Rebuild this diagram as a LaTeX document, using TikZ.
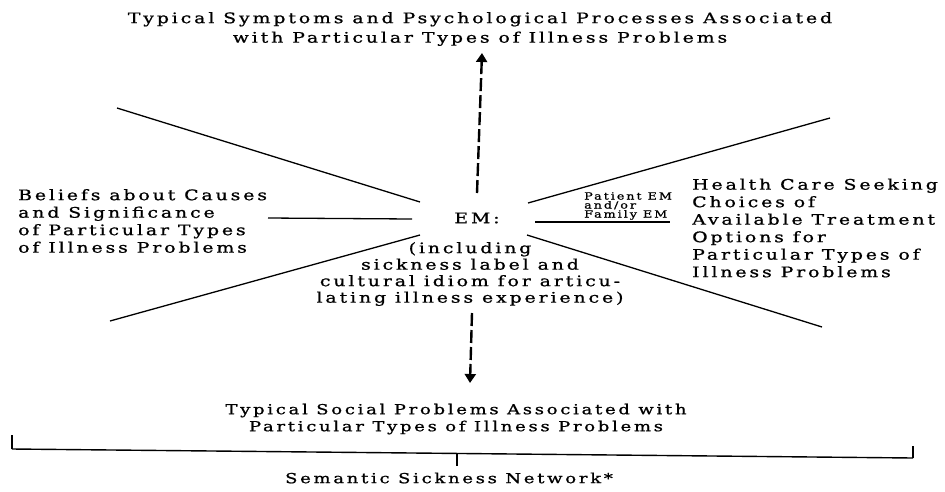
\documentclass[tikz,border=0pt]{standalone}
\usepackage{fontspec}
\setmainfont{DejaVu Serif}[FakeStretch=1.3, LetterSpace=20, FakeBold=1]
\usetikzlibrary{arrows.meta}
\begin{document}
\begin{tikzpicture}[x=1pt,y=-1pt,
  lbl/.style={inner sep=0pt, font=\fontsize{14.5}{17.5}\selectfont},
  toplbl/.style={inner sep=0pt, align=center, font=\fontsize{14.5}{19.5}\selectfont},
  small/.style={inner sep=0pt, align=left, font=\fontsize{9.8}{9}\selectfont},
  spoke/.style={line width=1.3pt},
  dasharrow/.style={line width=2.4pt, dash pattern=on 13pt off 4pt, -{Triangle[length=9pt,width=11pt]}},
  brack/.style={line width=1.4pt}]
\useasboundingbox[fill=white] (0,0) rectangle (945,491);

% texts
\node[toplbl] (top) at (480,29) {Typical Symptoms and Psychological Processes Associated\\with Particular Types of Illness Problems};
\node[lbl, align=left, anchor=west] (left) at (18,221) {Beliefs about Causes\\and Significance\\of Particular Types\\of Illness Problems};
\node[lbl, align=left, anchor=west] (right) at (692,228) {Health Care Seeking\\Choices of\\Available Treatment\\Options for\\Particular Types of\\Illness Problems};
\node[lbl] (em) at (477,218) {EM:};
\node[lbl, align=center, font=\fontsize{14.5}{16.5}\selectfont] (emsub) at (470,274) {(including\\sickness label and\\cultural idiom for articu-\\lating illness experience)};
\node[small, anchor=west] (pem) at (584,206) {Patient EM\\and/or\\Family EM};
\node[lbl, align=center, font=\fontsize{13.8}{17}\selectfont] (social) at (456,419) {Typical Social Problems Associated with\\Particular Types of Illness Problems};
\node[lbl, font=\fontsize{13.8}{17}\selectfont] (sem) at (449,478) {Semantic Sickness Network*};

% spokes
\coordinate (l1a) at (117,108); \coordinate (l1b) at (420,202);
\coordinate (l2a) at (268,218); \coordinate (l2b) at (412,219);
\coordinate (l3a) at (110,321); \coordinate (l3b) at (420,235);
\coordinate (r1a) at (528,203); \coordinate (r1b) at (830,118);
\coordinate (r2a) at (535,222); \coordinate (r2b) at (670,222);
\coordinate (r3a) at (527,235); \coordinate (r3b) at (822,327);
\draw[spoke] (l1a) -- (l1b);
\draw[spoke] (l2a) -- (l2b);
\draw[spoke] (l3a) -- (l3b);
\draw[spoke] (r1a) -- (r1b);
\draw[spoke] (r2a) -- (r2b);
\draw[spoke] (r3a) -- (r3b);

% dashed arrows
\coordinate (upS) at (477,193); \coordinate (upE) at (482,53);
\coordinate (dnS) at (472,313); \coordinate (dnE) at (470,383);
\draw[dasharrow] (upS) -- (upE);
\draw[dasharrow] (dnS) -- (dnE);

% bracket
\coordinate (bL) at (12,449); \coordinate (bR) at (913,458);
\coordinate (bM) at (457,453.5);
\draw[brack] (bL) -- (bR);
\draw[line width=2.8pt] (12,435) -- (bL);
\draw[line width=2.8pt] (bR) -- (913,446);
\draw[line width=1.8pt] (bM) -- (457,466);
\end{tikzpicture}
\end{document}
